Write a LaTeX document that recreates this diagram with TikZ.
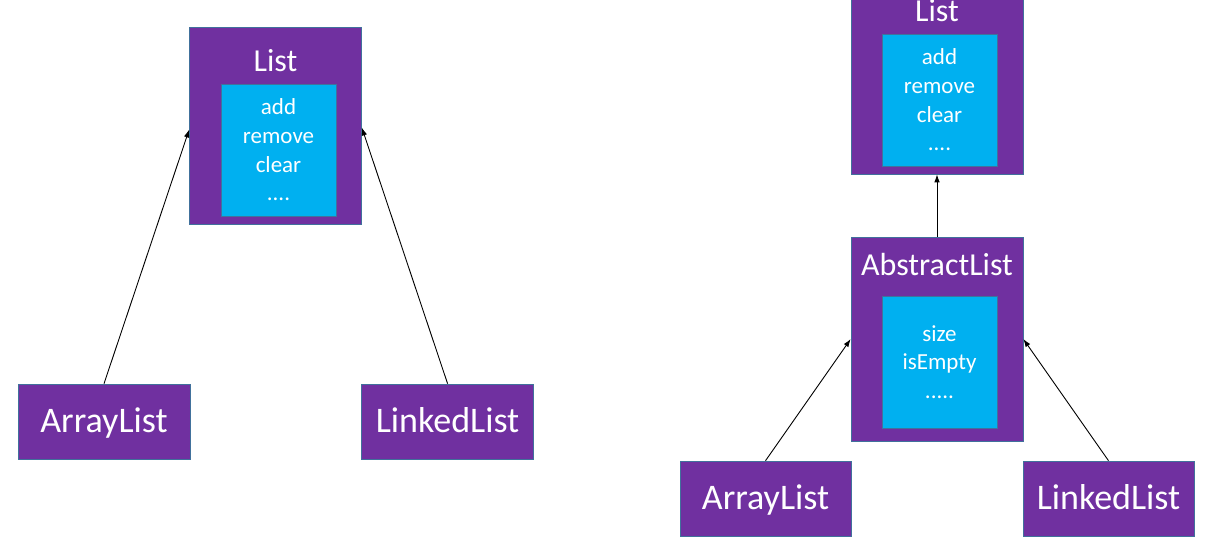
\documentclass[tikz,border=0pt]{standalone}
\usepackage{fontspec}
\setmainfont{Carlito}
\usetikzlibrary{positioning,arrows.meta}

\definecolor{classpurple}{RGB}{112,48,160}
\definecolor{methodcyan}{RGB}{0,176,240}
\definecolor{edgeblue}{RGB}{65,113,156}

\begin{document}
\begin{tikzpicture}[x=1pt,y=-1pt,>={Latex[length=8pt,width=5.5pt]},
    classbox/.style={
        rectangle,
        draw=edgeblue,
        line width=0.6pt,
        fill=classpurple,
        minimum width=172pt, minimum height=197pt,
        inner sep=0pt
        },
    methodbox/.style={
        rectangle,
        draw=edgeblue,
        line width=0.6pt,
        fill=methodcyan,
        minimum width=115pt, minimum height=132pt,
        inner sep=0pt,
        text=white,
        align=center,
        font=\fontsize{23}{28.7}\selectfont
        },
    title/.style={
        text=white,
        inner sep=0pt,
        font=\fontsize{32}{36}\selectfont
        },
    leafbox/.style={
        rectangle,
        draw=edgeblue,
        line width=0.6pt,
        fill=classpurple,
        minimum width=172pt, minimum height=75pt,
        inner sep=0pt,
        text height=24pt, text depth=2pt,
        text=white,
        font=\fontsize{36}{40}\selectfont
        },
    inherit/.style={->, line width=0.9pt, black}]

    \useasboundingbox (0,0) rectangle (1209,545);

    % left: List with two implementations
    \node (list_l) [classbox] at (275.5,125.5) {};
    \node (list_l_title) [title] at (275.5,61) {List};
    \node (methods_l) [methodbox] at (278.5,150) {add\\remove\\clear\\....};

    \node (array_l) [leafbox] at (104,421.5) {ArrayList};
    \node (linked_l) [leafbox, right=171pt of array_l] {LinkedList};

    \draw[inherit] (array_l.north) -- ([yshift=-4pt]list_l.west);
    \draw[inherit] (linked_l.north) -- ([yshift=-2pt]list_l.east);

    % right: List, AbstractList in between
    \node (list_r) [classbox] at (937,75.5) {};
    \node (list_r_title) [title] at (937,11) {List};
    \node (methods_r) [methodbox] at (939.5,100) {add\\remove\\clear\\....};

    \node (abstract) [classbox, minimum height=204pt] at (937,339) {};
    \node (abstract_title) [title] at (937,265) {AbstractList};
    \node (fields) [methodbox] at (939.5,362) {size\\isEmpty\\.....};

    \node (array_r) [leafbox, minimum width=171pt] at (765.5,498.5) {ArrayList};
    \node (linked_r) [leafbox, minimum width=171pt] at (1108.5,498.5) {LinkedList};

    \draw[inherit] (abstract.north) -- (list_r.south);
    \draw[inherit] (array_r.north) -- (abstract.west);
    \draw[inherit] (linked_r.north) -- (abstract.east);
\end{tikzpicture}
\end{document}
